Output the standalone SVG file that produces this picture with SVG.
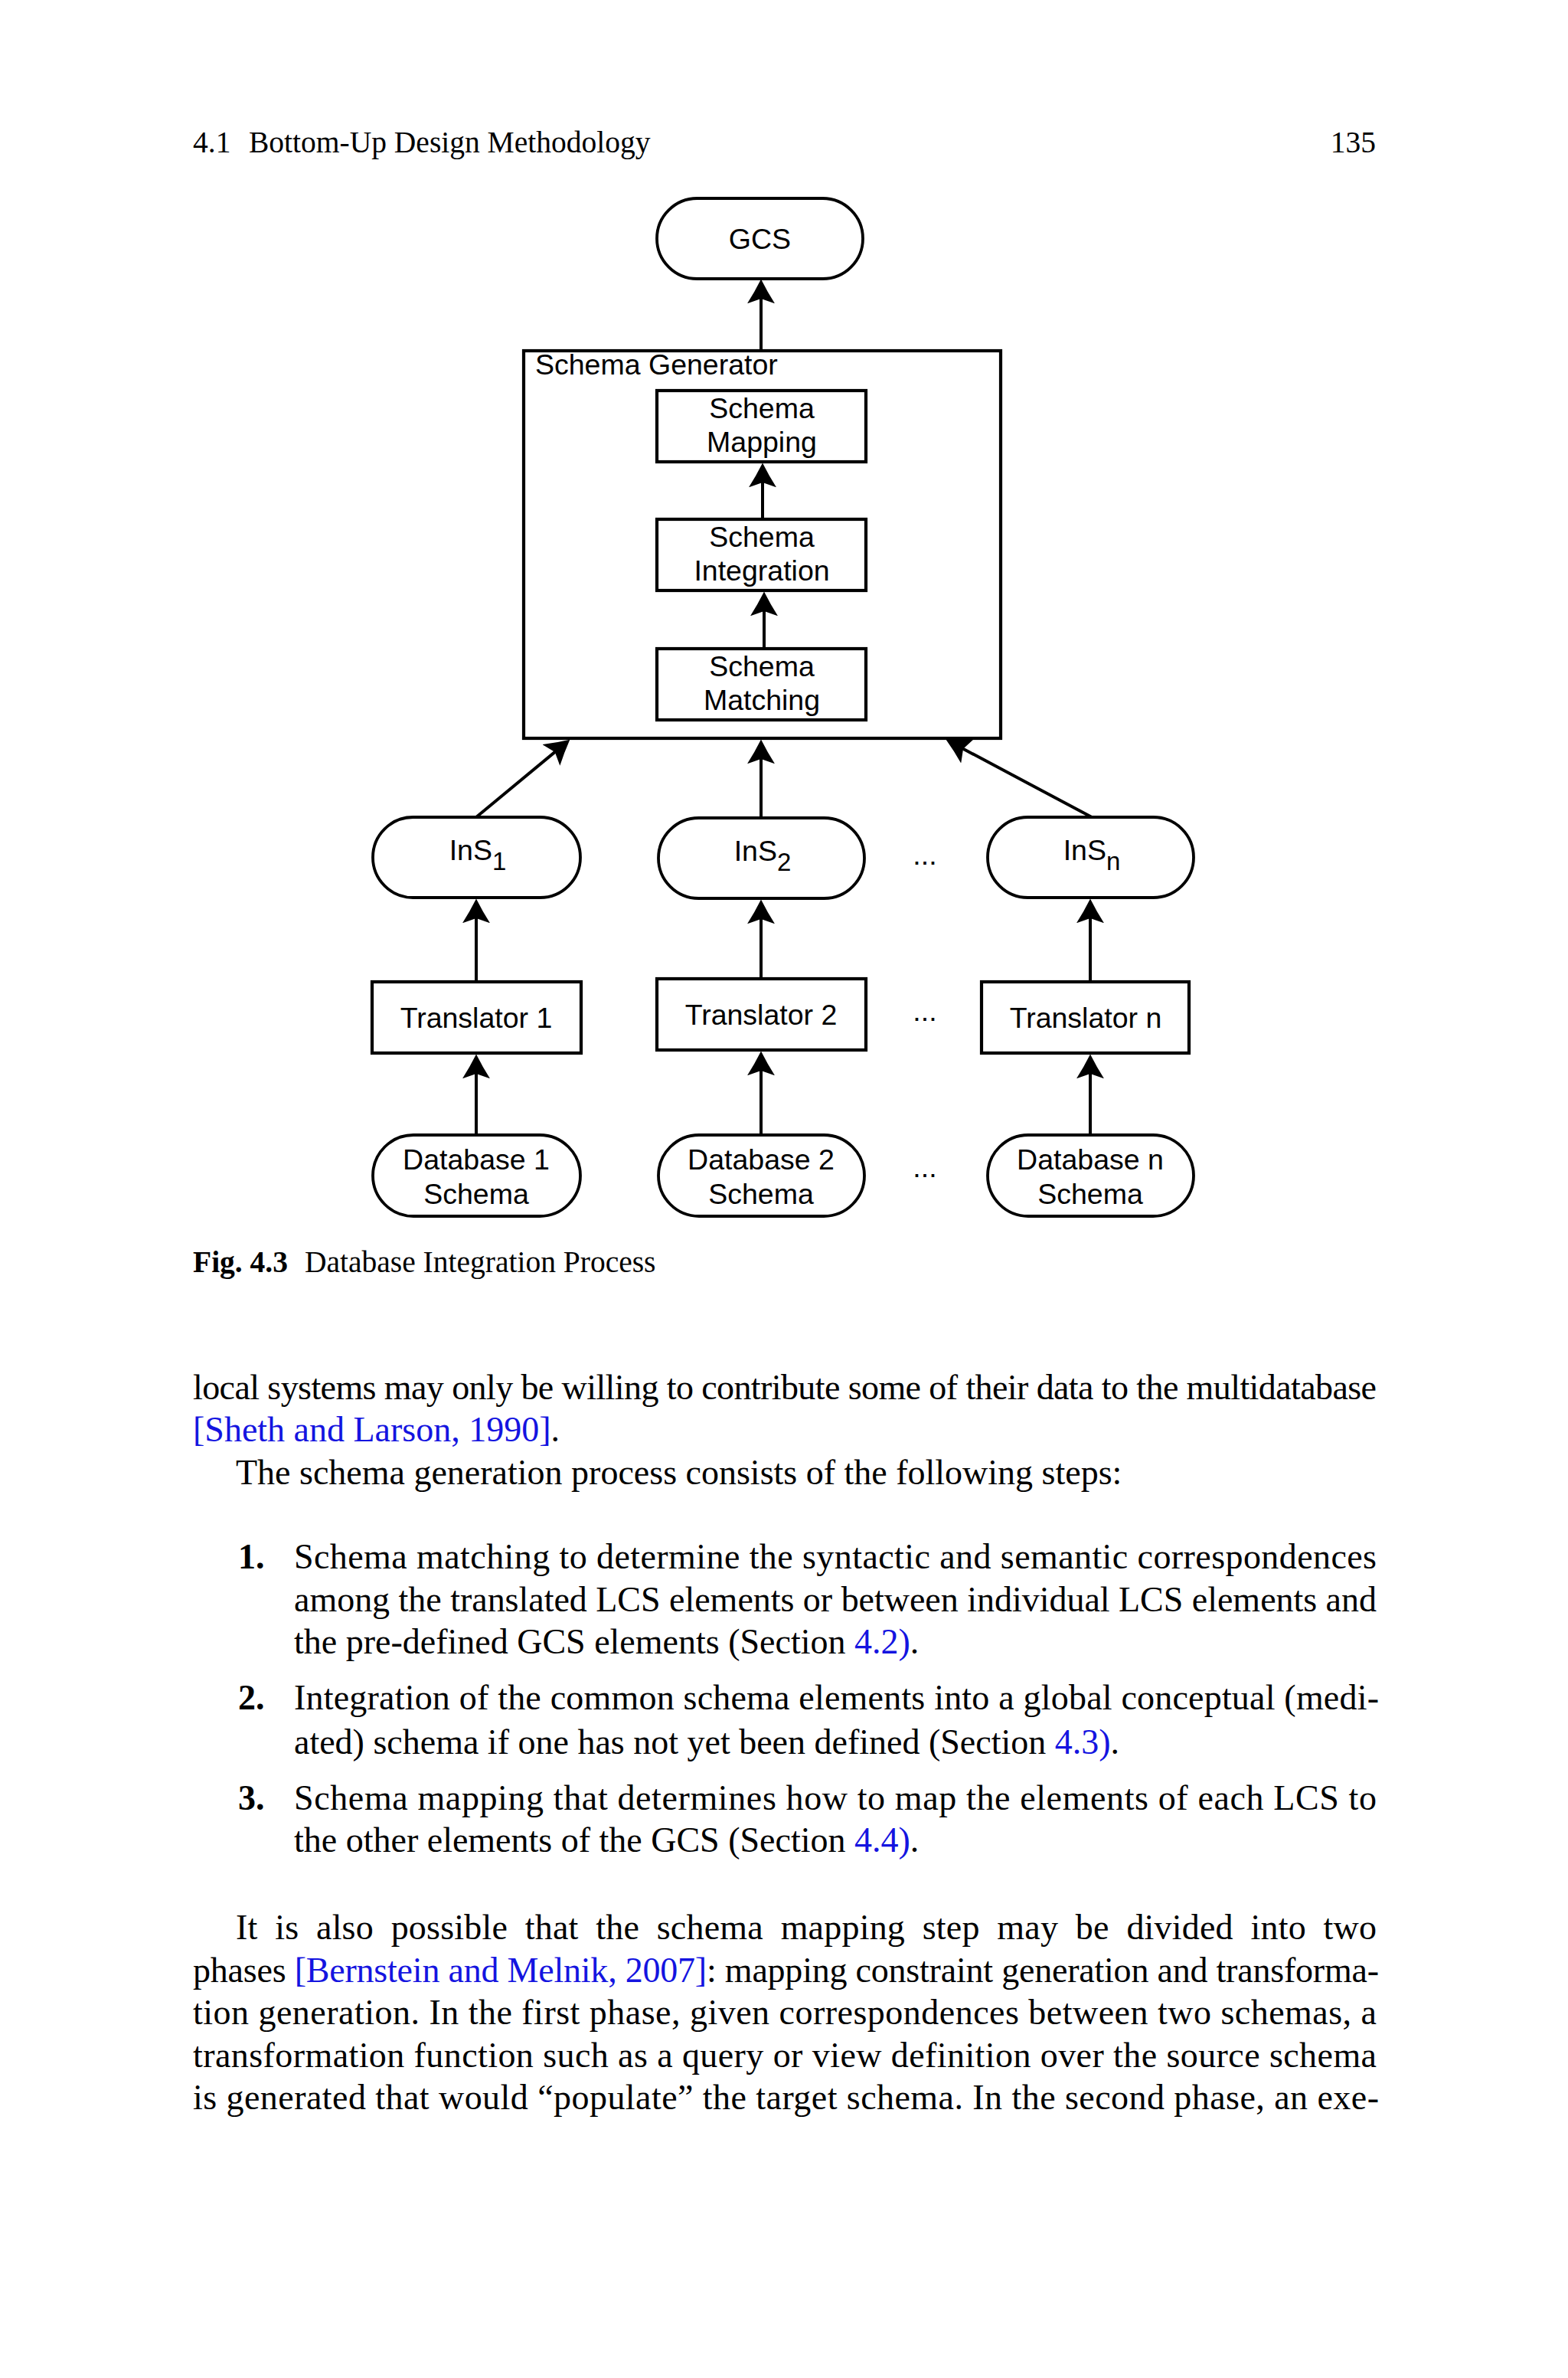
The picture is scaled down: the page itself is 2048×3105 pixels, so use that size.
<svg xmlns="http://www.w3.org/2000/svg" width="2048" height="3105" viewBox="0 0 2048 3105">
<style>
.n{fill:#fff;stroke:#000;stroke-width:4.2}
.p{fill:#fff;stroke:#000;stroke-width:3.8}
.t{font-family:"Liberation Sans",Arial,sans-serif;font-size:37.5px;fill:#000;text-anchor:middle}
.ts{font-family:"Liberation Sans",Arial,sans-serif;font-size:37.5px;fill:#000}
.c{stroke:#000;stroke-width:4;fill:none;marker-end:url(#ah)}
.b{font-family:"Liberation Serif","Times New Roman",serif;font-size:46px;fill:#000}
.h{font-family:"Liberation Serif","Times New Roman",serif;font-size:39.5px;fill:#000}
.bl{fill:#1414e0}
.bd{font-weight:bold}
</style>
<defs>
<marker id="ah" markerUnits="userSpaceOnUse" markerWidth="32" markerHeight="36" viewBox="0 0 30 34" refX="22" refY="17" orient="auto">
<path d="M30,17 Q14,9 0,0 L6,17 L0,34 Q14,25 30,17 Z" fill="#000"/>
</marker>
</defs>
<rect x="0" y="0" width="2048" height="3105" fill="#fff"/>

<g id="header">
<text class="h" x="252" y="199">4.1</text>
<text class="h" x="325" y="199">Bottom-Up Design Methodology</text>
<text class="h" x="1797" y="199" text-anchor="end">135</text>
</g>

<g id="gcs">
<rect class="p" x="858" y="259" width="269" height="105" rx="52.5" ry="52.5"/>
<text class="t" x="992.5" y="325">GCS</text>
</g>

<g id="schema-generator">
<rect class="n" x="684" y="458" width="623" height="506"/>
<text class="ts" x="699" y="489">Schema Generator</text>
</g>

<g id="schema-mapping">
<rect class="n" x="858" y="510" width="273" height="93"/>
<text class="t" x="995" y="546">Schema</text>
<text class="t" x="995" y="590">Mapping</text>
</g>

<g id="schema-integration">
<rect class="n" x="858" y="678" width="273" height="93"/>
<text class="t" x="995" y="714">Schema</text>
<text class="t" x="995" y="758">Integration</text>
</g>

<g id="schema-matching">
<rect class="n" x="858" y="847" width="273" height="93"/>
<text class="t" x="995" y="883">Schema</text>
<text class="t" x="995" y="927">Matching</text>
</g>

<g id="ins1">
<rect class="p" x="487" y="1067" width="271" height="105" rx="52.5" ry="52.5"/>
<text class="t" x="624" y="1123">InS<tspan dy="13" font-size="33">1</tspan></text>
</g>
<g id="ins2">
<rect class="p" x="860" y="1068" width="269" height="105" rx="52.5" ry="52.5"/>
<text class="t" x="996" y="1124">InS<tspan dy="13" font-size="33">2</tspan></text>
</g>
<g id="insn">
<rect class="p" x="1290" y="1067" width="269" height="105" rx="52.5" ry="52.5"/>
<text class="t" x="1426" y="1123">InS<tspan dy="13" font-size="33">n</tspan></text>
</g>

<g id="translator1">
<rect class="n" x="486" y="1282" width="273" height="93"/>
<text class="t" x="622" y="1342">Translator 1</text>
</g>
<g id="translator2">
<rect class="n" x="858" y="1278" width="273" height="93"/>
<text class="t" x="994" y="1338">Translator 2</text>
</g>
<g id="translatorn">
<rect class="n" x="1282" y="1282" width="271" height="93"/>
<text class="t" x="1418" y="1342">Translator n</text>
</g>

<g id="db1">
<rect class="p" x="487" y="1482" width="271" height="106" rx="53" ry="53"/>
<text class="t" x="622" y="1527">Database 1</text>
<text class="t" x="622" y="1572">Schema</text>
</g>
<g id="db2">
<rect class="p" x="860" y="1482" width="269" height="106" rx="53" ry="53"/>
<text class="t" x="994" y="1527">Database 2</text>
<text class="t" x="994" y="1572">Schema</text>
</g>
<g id="dbn">
<rect class="p" x="1290" y="1482" width="269" height="106" rx="53" ry="53"/>
<text class="t" x="1424" y="1527">Database n</text>
<text class="t" x="1424" y="1572">Schema</text>
</g>

<g id="connectors">
<path class="c" d="M994,458 L994,373"/>
<path class="c" d="M996,678 L996,613"/>
<path class="c" d="M998,847 L998,781"/>
<path class="c" d="M622,1067 L737.8,971.1"/>
<path class="c" d="M994,1068 L994,974"/>
<path class="c" d="M1426,1067 L1243.1,969.8"/>
<path class="c" d="M622,1282 L622,1182"/>
<path class="c" d="M994,1278 L994,1183"/>
<path class="c" d="M1424,1282 L1424,1182"/>
<path class="c" d="M622,1482 L622,1385"/>
<path class="c" d="M994,1482 L994,1381"/>
<path class="c" d="M1424,1482 L1424,1385"/>
</g>

<g id="ellipses">
<text class="t" x="1208" y="1129">...</text>
<text class="t" x="1208" y="1333">...</text>
<text class="t" x="1208" y="1537">...</text>
</g>

<g id="caption">
<text class="h bd" x="252" y="1661">Fig. 4.3</text>
<text class="h" x="398" y="1661">Database Integration Process</text>
</g>

<g id="body">
<text class="b" x="252" y="1827" textLength="1546" lengthAdjust="spacing">local systems may only be willing to contribute some of their data to the multidatabase</text>
<text class="b" x="252" y="1882"><tspan class="bl">[Sheth and Larson, 1990]</tspan>.</text>
<text class="b" x="308" y="1938">The schema generation process consists of the following steps:</text>

<text class="b bd" x="311" y="2048">1.</text>
<text class="b" x="384" y="2048" textLength="1414" lengthAdjust="spacing">Schema matching to determine the syntactic and semantic correspondences</text>
<text class="b" x="384" y="2104" textLength="1414" lengthAdjust="spacing">among the translated LCS elements or between individual LCS elements and</text>
<text class="b" x="384" y="2159">the pre-defined GCS elements (Section <tspan class="bl">4.2)</tspan>.</text>

<text class="b bd" x="311" y="2232">2.</text>
<text class="b" x="384" y="2232" textLength="1417" lengthAdjust="spacing">Integration of the common schema elements into a global conceptual (medi-</text>
<text class="b" x="384" y="2290">ated) schema if one has not yet been defined (Section <tspan class="bl">4.3)</tspan>.</text>

<text class="b bd" x="311" y="2363">3.</text>
<text class="b" x="384" y="2363" textLength="1414" lengthAdjust="spacing">Schema mapping that determines how to map the elements of each LCS to</text>
<text class="b" x="384" y="2418">the other elements of the GCS (Section <tspan class="bl">4.4)</tspan>.</text>

<text class="b" x="308" y="2532" word-spacing="11" textLength="1490" lengthAdjust="spacing">It is also possible that the schema mapping step may be divided into two</text>
<text class="b" x="252" y="2587.5" textLength="1549" lengthAdjust="spacing">phases <tspan class="bl">[Bernstein and Melnik, 2007]</tspan>: mapping constraint generation and transforma-</text>
<text class="b" x="252" y="2643" textLength="1546" lengthAdjust="spacing">tion generation. In the first phase, given correspondences between two schemas, a</text>
<text class="b" x="252" y="2698.5" textLength="1546" lengthAdjust="spacing">transformation function such as a query or view definition over the source schema</text>
<text class="b" x="252" y="2754" textLength="1549" lengthAdjust="spacing">is generated that would “populate” the target schema. In the second phase, an exe-</text>
</g>
</svg>
